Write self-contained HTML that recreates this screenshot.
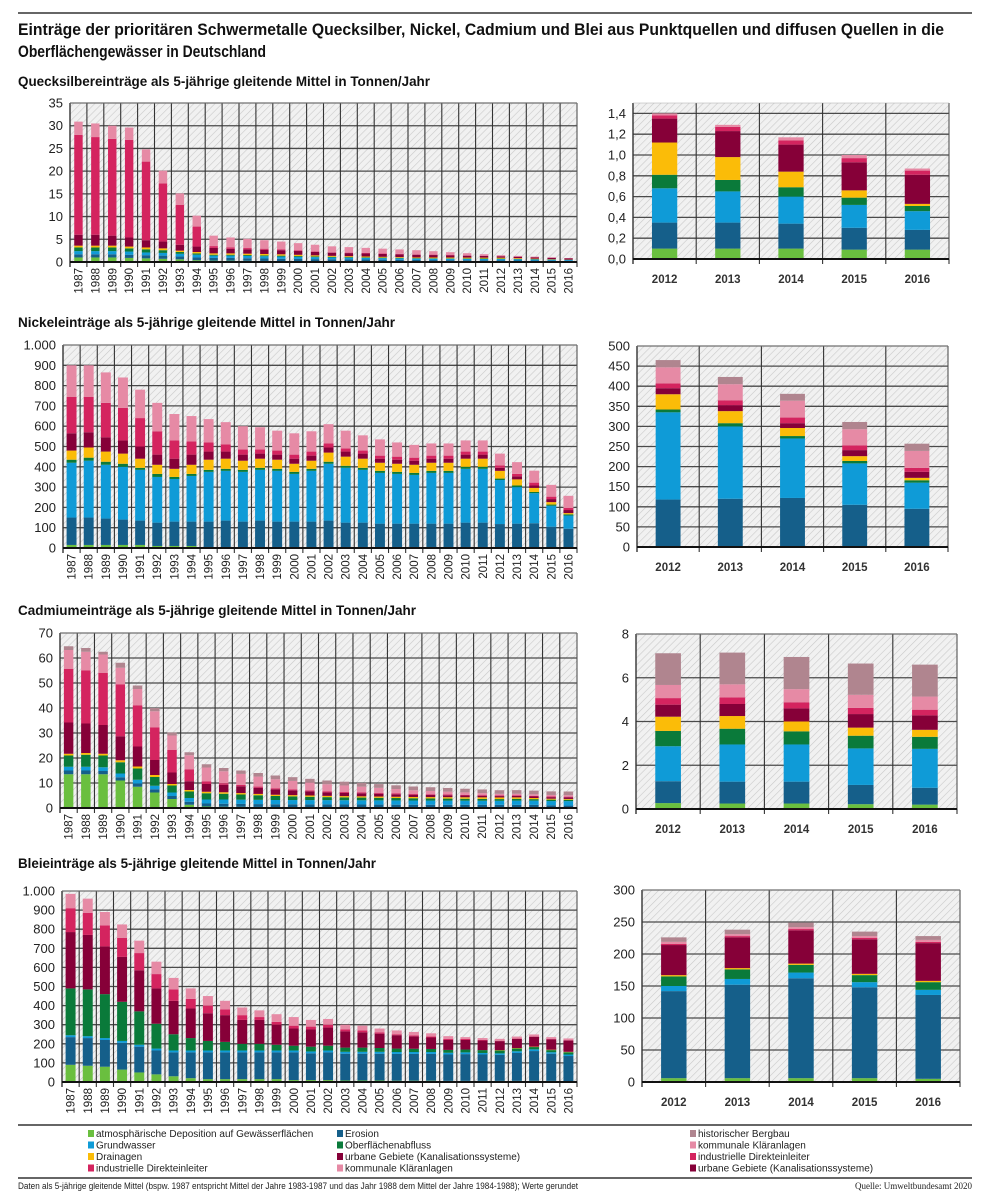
<!DOCTYPE html>
<html><head><meta charset="utf-8"><style>
html,body{margin:0;padding:0;background:#fff;}
svg{display:block;font-family:"Liberation Sans",sans-serif;}
</style></head><body>
<svg id="s" width="994" height="1200" xmlns="http://www.w3.org/2000/svg">
<defs>
<pattern id="h" width="5" height="5" patternUnits="userSpaceOnUse" patternTransform="rotate(45)">
<rect width="5" height="5" fill="#f1f1f1"/><line x1="0" y1="0" x2="0" y2="5" stroke="#c9c9c9" stroke-width="1.2"/>
</pattern>
</defs>
<line x1="18" y1="13" x2="972" y2="13" stroke="#666" stroke-width="2"/>
<text x="18" y="35" font-size="17" font-weight="bold" textLength="926" lengthAdjust="spacingAndGlyphs" fill="#111">Einträge der prioritären Schwermetalle Quecksilber, Nickel, Cadmium und Blei aus Punktquellen und diffusen Quellen in die</text>
<text x="18" y="57" font-size="17" font-weight="bold" textLength="248" lengthAdjust="spacingAndGlyphs" fill="#111">Oberflächengewässer in Deutschland</text>
<text x="18" y="86" font-size="14" font-weight="bold" textLength="412" lengthAdjust="spacingAndGlyphs" fill="#111">Quecksilbereinträge als 5-jährige gleitende Mittel in Tonnen/Jahr</text>
<text x="18" y="327" font-size="14" font-weight="bold" textLength="377" lengthAdjust="spacingAndGlyphs" fill="#111">Nickeleinträge als 5-jährige gleitende Mittel in Tonnen/Jahr</text>
<text x="18" y="615" font-size="14" font-weight="bold" textLength="398" lengthAdjust="spacingAndGlyphs" fill="#111">Cadmiumeinträge als 5-jährige gleitende Mittel in Tonnen/Jahr</text>
<text x="18" y="868" font-size="14" font-weight="bold" textLength="358" lengthAdjust="spacingAndGlyphs" fill="#111">Bleieinträge als 5-jährige gleitende Mittel in Tonnen/Jahr</text>
<g id="g"></g>
<line x1="18" y1="1125" x2="972" y2="1125" stroke="#666" stroke-width="2"/>
<line x1="18" y1="1178" x2="972" y2="1178" stroke="#666" stroke-width="2"/>
<g font-size="10" fill="#222" id="leg"></g>
<text x="18" y="1189" font-size="9" fill="#222" textLength="560" lengthAdjust="spacingAndGlyphs">Daten als 5-jährige gleitende Mittel (bspw. 1987 entspricht Mittel der Jahre 1983-1987 und das Jahr 1988 dem Mittel der Jahre 1984-1988); Werte gerundet</text>
<text x="972" y="1189" font-size="9" fill="#222" text-anchor="end" font-family="Liberation Serif,serif">Quelle: Umweltbundesamt 2020</text>
</svg>
<script>
var C=["#6abf3f","#155f8a","#0f9bd7","#0a7a3a","#fbbc08","#860038","#d4245f","#e68aa5","#b0858f"];
var NS="http://www.w3.org/2000/svg",G=document.getElementById("g");
function el(t,a,p){var e=document.createElementNS(NS,t);for(var k in a)e.setAttribute(k,a[k]);(p||G).appendChild(e);return e;}
function interp(rows){var ks=Object.keys(rows).map(Number).sort(function(a,b){return a-b});var out=[];
for(var i=0;i<30;i++){var a=ks[0],b=ks[ks.length-1];for(var j=0;j<ks.length;j++){if(ks[j]<=i)a=ks[j];}for(var j=ks.length-1;j>=0;j--){if(ks[j]>=i)b=ks[j];}
var t=(a==b)?0:(i-a)/(b-a);out.push(rows[a].map(function(v,k){return v+(rows[b][k]-v)*t;}));}return out;}
function fmt(v,dec){var s=dec?v.toFixed(dec).replace(".",","):String(Math.round(v));if(!dec&&v>=1000)s="1.000";return s;}
function chart(o){var x0=o.x0,x1=o.x1,yt=o.yt,yb=o.yb,n=o.data.length,cw=(x1-x0)/n;
el("rect",{x:x0,y:yt,width:x1-x0,height:yb-yt,fill:"url(#h)"});
function Y(v){return yb-(yb-yt)*v/o.max;}
for(var v=0;v<=o.max+1e-9;v+=o.step){var y=Y(v);if(v>0)el("line",{x1:x0,y1:y,x2:x1,y2:y,stroke:"#4a4a4a","stroke-width":1.3});
var t=el("text",{x:x0-7,y:y+4.5,"text-anchor":"end","font-size":13,fill:"#222"});t.textContent=fmt(v,o.dec);}
for(var i=0;i<=n;i++){var x=x0+i*cw;el("line",{x1:x,y1:yt,x2:x,y2:yb+5,stroke:"#333","stroke-width":i==0?1.4:1.1});}
el("line",{x1:x1,y1:yt,x2:x1,y2:yb,stroke:"#555","stroke-width":1});
el("line",{x1:x0,y1:yt,x2:x1,y2:yt,stroke:"#aaa","stroke-width":0.6});
for(var i=0;i<n;i++){var cx=x0+(i+.5)*cw,bw=cw*o.bw,acc=0;
o.data[i].forEach(function(v,k){if(v<=0)return;var ya=Y(acc+v),yb2=Y(acc);el("rect",{x:cx-bw/2,y:ya,width:bw,height:yb2-ya,fill:C[k]});acc+=v;});
if(o.rot){var t=el("text",{x:0,y:0,transform:"translate("+(cx+4)+","+(yb+6)+") rotate(-90)","text-anchor":"end","font-size":11.5,fill:"#222"});t.textContent=1987+i;}
else{var t=el("text",{x:cx,y:yb+24,"text-anchor":"middle","font-size":11.5,"font-weight":"bold",fill:"#333"});t.textContent=2012+i;}}
el("line",{x1:x0,y1:yb,x2:x1,y2:yb,stroke:"#111","stroke-width":2});}
var hgL=interp({0:[1,.7,.7,.8,.4,2.4,22,2.9,0],1:[1,.7,.7,.8,.4,2.4,21.5,3,0],2:[1,.7,.7,.8,.4,2.2,21.3,2.9,0],3:[.9,.7,.7,.7,.4,2,21.5,2.7,0],4:[.8,.7,.6,.7,.4,1.6,17.3,2.7,0],5:[.7,.7,.6,.6,.4,1.5,12.8,2.8,0],6:[.6,.6,.6,.4,.3,1.3,8.8,2.5,0],7:[.4,.6,.6,.3,.3,1.2,4.4,2.4,0],8:[.3,.6,.5,.2,.3,1.2,.4,2.3,0],9:[.3,.6,.5,.2,.3,1,.3,2.2,0],12:[.2,.5,.5,.2,.3,.9,.2,1.7,0],15:[.2,.4,.4,.15,.2,.7,.1,1.3,0],20:[.15,.3,.3,.1,.15,.6,.1,.9,0],25:[.1,.25,.3,.1,.2,.3,.05,.2,0],29:[.09,.19,.18,.05,.02,.28,.04,.02,0]});
var hgR=[[.1,.25,.33,.13,.31,.23,.03,.02,0],[.1,.25,.3,.11,.22,.25,.04,.02,0],[.1,.24,.26,.09,.15,.26,.04,.03,0],[.09,.21,.22,.07,.07,.27,.04,.03,0],[.09,.19,.18,.05,.02,.28,.04,.02,0]];
var niL=interp({0:[15,135,270,15,45,85,180,155,0],1:[15,135,280,15,50,75,175,155,0],2:[15,130,265,15,50,70,170,150,0],3:[15,125,260,15,50,65,160,150,0],4:[15,120,250,10,45,60,140,140,0],5:[10,115,225,15,45,50,115,140,0],6:[10,120,210,10,40,50,90,130,0],7:[10,120,225,10,45,50,65,125,0],8:[5,125,245,10,50,40,45,115,0],9:[5,130,245,10,50,35,35,110,0],10:[5,125,245,10,45,30,25,115,0],11:[5,130,250,10,45,25,20,110,0],12:[5,125,250,10,45,25,20,98,0],13:[5,125,235,10,40,25,20,105,0],14:[5,125,250,10,40,25,20,100,0],15:[5,130,280,10,45,25,20,95,0],16:[5,120,270,10,45,25,15,88,0],17:[5,120,260,10,45,25,15,75,0],18:[5,115,250,10,40,20,15,80,0],19:[5,115,245,10,40,20,15,70,0],20:[5,115,240,10,40,20,15,63,0],21:[5,115,250,10,40,20,15,60,0],22:[5,115,250,10,40,20,15,60,0],23:[5,120,265,10,40,20,15,55,0],24:[5,120,265,10,40,20,15,55,0],25:[2,116,217,7,38,15,12,58,0],26:[2,118,180,8,30,15,12,58,0],27:[2,120,148,6,20,12,14,59,0],28:[2,103,103,6,12,15,12,58,0],29:[2,93,65,6,6,15,10,60,0]});
var niR=[[2,116,217,7,38,15,12,40,18],[2,118,180,8,30,15,12,40,18],[2,120,148,6,20,12,14,42,17],[2,103,103,6,12,15,12,40,18],[2,93,65,6,6,15,10,42,18]];
var cdR=[[.27,1,1.6,.7,.65,.55,.3,.6,1.45],[.25,1,1.7,.72,.58,.55,.3,.6,1.45],[.25,1,1.7,.6,.45,.6,.28,.6,1.47],[.22,.88,1.67,.58,.37,.62,.28,.6,1.43],[.2,.77,1.78,.55,.32,.66,.26,.6,1.46]];
var cdL=interp({0:[13.5,1.5,1.5,4.5,.7,12.5,21.5,7.5,1.5],1:[13.5,1.5,1.5,4.8,.7,11.8,21.2,7.5,1.5],2:[13.5,1.3,1.5,4.7,.7,11.5,20.8,7.4,1.1],3:[11,1.3,1.5,4.5,.8,9.6,20.7,6.7,2],4:[8.5,1.3,1.5,4.5,.8,8,16.5,6.5,1.4],5:[6.2,1.3,1.4,3.5,.8,6,13,6.5,1.3],6:[3.6,1.2,1.4,2.8,.6,4.6,9,5.8,1.2],7:[1.3,1.2,1.5,2.6,.6,3.5,4.8,5.6,1.2],8:[.6,1.2,1.6,2.5,.6,3.1,1,5.6,1.3],9:[.5,1.2,1.7,2.3,.6,3,.6,4.8,1.3],12:[.4,1.1,1.7,1.6,.5,2.2,.4,3.6,1.5],15:[.35,1.1,1.7,1.2,.5,1.4,.35,2.9,1.5],20:[.3,1,1.7,.9,.5,.9,.3,1.5,1.5],25:cdR[0],26:cdR[1],27:cdR[2],28:cdR[3],29:cdR[4]});
var pbR=[[6,136,8,15,2,47,2,3,7],[6,146,9,15,2,48,2,3,7],[6,156,9,12,2,52,2,3,7],[6,142,8,11,2,54,2,3,7],[5,131,8,12,2,59,2,3,6]];
function fold(r){return [r[0],r[1],r[2],r[3],r[4],r[5],r[6],r[7]+r[8],0];}
var pbL=interp({0:[90,145,10,245,0,295,125,75,0],1:[85,145,10,245,0,285,115,75,0],2:[80,140,10,230,0,250,110,70,0],3:[65,140,10,205,0,235,100,70,0],4:[50,135,10,175,0,215,90,65,0],5:[40,125,10,130,0,185,75,65,0],6:[30,125,10,85,0,175,60,60,0],7:[20,135,10,65,0,155,50,55,0],8:[15,140,10,50,0,145,40,50,0],9:[15,140,10,45,0,140,30,45,0],10:[15,140,10,35,0,125,25,40,0],11:[15,140,10,35,0,125,15,35,0],12:[15,140,10,30,0,105,15,40,0],13:[10,145,10,25,0,90,15,45,0],14:[10,140,10,25,0,90,15,35,0],15:[10,145,10,25,0,95,15,30,0],16:[8,140,10,22,0,85,10,25,0],17:[8,140,10,22,0,80,10,25,0],18:[8,140,10,20,0,75,7,20,0],19:[7,140,10,18,0,70,5,20,0],20:[7,140,10,17,0,65,5,18,0],21:[7,140,10,16,0,60,5,17,0],22:[6,138,9,15,0,52,5,15,0],23:[6,140,9,15,0,50,5,10,0],24:[6,138,8,15,0,50,4,9,0],25:fold(pbR[0]),26:fold(pbR[1]),27:fold(pbR[2]),28:fold(pbR[3]),29:fold(pbR[4])});
chart({x0:70,x1:577,yt:103,yb:262,max:35,step:5,data:hgL,bw:.5,rot:1});
chart({x0:633,x1:949,yt:103,yb:259,max:1.5,step:.2,dec:1,data:hgR,bw:.4});
chart({x0:63,x1:577,yt:345,yb:548,max:1000,step:100,data:niL,bw:.58,rot:1});
chart({x0:637,x1:948,yt:346,yb:547,max:500,step:50,data:niR,bw:.4});
chart({x0:60,x1:577,yt:633,yb:808,max:70,step:10,data:cdL,bw:.55,rot:1});
chart({x0:636,x1:957,yt:634,yb:809,max:8,step:2,data:cdR,bw:.4});
chart({x0:62,x1:577,yt:891,yb:1082,max:1000,step:100,data:pbL,bw:.58,rot:1});
chart({x0:642,x1:960,yt:890,yb:1082,max:300,step:50,data:pbR,bw:.4});
var L=document.getElementById("leg");
var items=[[88,0,"atmosphärische Deposition auf Gewässerflächen"],[88,2,"Grundwasser"],[88,4,"Drainagen"],[88,6,"industrielle Direkteinleiter"],
[337,1,"Erosion"],[337,3,"Oberflächenabfluss"],[337,5,"urbane Gebiete (Kanalisationssysteme)"],[337,7,"kommunale Kläranlagen"],
[690,8,"historischer Bergbau"],[690,7,"kommunale Kläranlagen"],[690,6,"industrielle Direkteinleiter"],[690,5,"urbane Gebiete (Kanalisationssysteme)"]];
items.forEach(function(it,i){var r=i%4,y=1134+r*11.5;el("rect",{x:it[0],y:y-4,width:6,height:7,fill:C[it[1]]},L);var t=el("text",{x:it[0]+8,y:y+3},L);t.textContent=it[2];});
</script>
</body></html>
